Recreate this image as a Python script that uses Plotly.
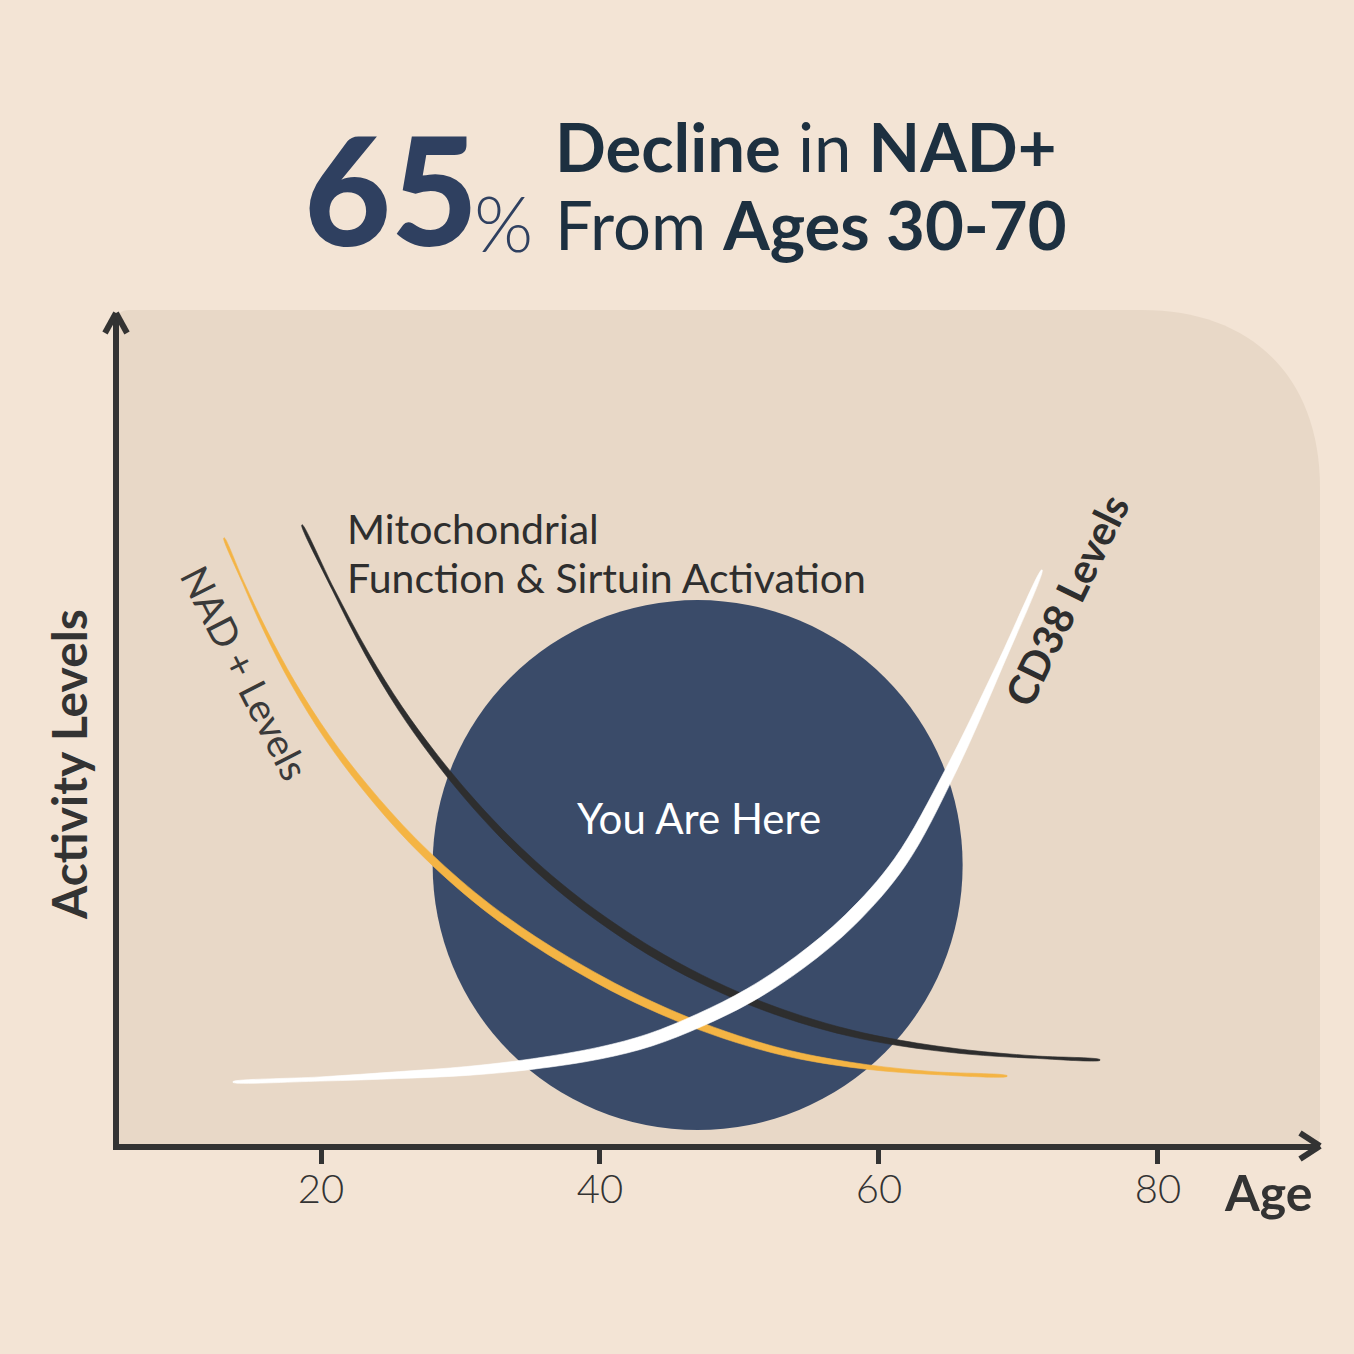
import math
import plotly.graph_objects as go

# ---------------- data ----------------
nad_age = [13.05, 14.41, 15.99, 17.99, 20.43, 23.15, 26.59, 30.90, 35.20, 40.00,
           43.58, 47.17, 50.75, 54.34, 59.14, 63.87, 69.18]
nad_lvl = [73.16, 67.87, 62.09, 55.72, 49.22, 43.20, 36.70, 30.08, 24.79, 19.98,
           16.97, 14.44, 12.39, 10.83, 9.51, 8.78, 8.42]

mito_age = [18.64, 20.86, 23.30, 25.66, 28.03, 30.47, 32.83, 35.20, 37.63, 40.00,
            43.58, 47.17, 50.75, 54.34, 57.92, 61.51, 66.31, 71.04, 75.84]
mito_lvl = [74.73, 67.03, 59.21, 52.71, 47.17, 42.12, 37.79, 33.94, 30.45, 27.44,
            23.47, 20.16, 17.45, 15.28, 13.60, 12.39, 11.31, 10.71, 10.35]

cd38_age = [13.69, 19.93, 25.66, 30.47, 35.20, 40.00, 43.58, 47.17, 50.75, 54.34,
            57.92, 61.51, 65.09, 68.67, 71.68]
cd38_lvl = [7.70, 8.06, 8.54, 9.03, 9.87, 11.19, 12.76, 15.16, 18.17, 22.14,
            27.20, 34.18, 45.01, 57.88, 69.31]

x_ticks = [20, 40, 60, 80]
x_range = [5.52, 91.47]
y_range = [0.24, 100]

you_are_here_age = 47.0
you_are_here_lvl = 33.8

# ---------------- styling ----------------
W = H = 1354
ML, MR, MT, MB = 119, 36, 315, 210
PW = W - ML - MR
PH = H - MT - MB
OUTER_BG = "#f3e4d5"
INNER_BG = "#e8d8c7"
AXIS = "#333333"
NAVY = "#1d3040"
BLUE = "#2f4060"
CIRCLE = "#3a4b69"
ORANGE = "#f4b444"
DARK = "#2e2e2e"
FONT = "Lato"

sx = PW / (x_range[1] - x_range[0])   # px per age unit
sy = PH / (y_range[1] - y_range[0])   # px per level unit


def PX(px):
    return (px - ML) / PW


def PY(py):
    return (H - MB - py) / PH


fig = go.Figure()


def ribbon(xs, ys, color, wmax, peak_frac, expo=0.8, wmin=0.8):
    """Tapered stroke: smooth filled band around the data curve."""
    n = len(xs)
    px = [(x - x_range[0]) * sx for x in xs]
    py = [(y - y_range[0]) * sy for y in ys]
    s = [0.0]
    for i in range(1, n):
        s.append(s[-1] + math.hypot(px[i] - px[i - 1], py[i] - py[i - 1]))
    S = s[-1]
    up, dn = [], []
    for i in range(n):
        t = s[i] / S
        if t <= peak_frac:
            w = math.sin(math.pi / 2 * t / peak_frac) ** expo
        else:
            w = math.sin(math.pi / 2 * (1 - t) / (1 - peak_frac)) ** expo
        h = max(wmax * w, wmin) / 2
        a, b = max(i - 1, 0), min(i + 1, n - 1)
        tx, ty = px[b] - px[a], py[b] - py[a]
        L = math.hypot(tx, ty)
        nx, ny = -ty / L, tx / L
        up.append((xs[i] + nx * h / sx, ys[i] + ny * h / sy))
        dn.append((xs[i] - nx * h / sx, ys[i] - ny * h / sy))
    poly = up + dn[::-1] + [up[0]]
    fig.add_trace(go.Scatter(
        x=[p[0] for p in poly], y=[p[1] for p in poly], mode="lines",
        fill="toself", fillcolor=color,
        line=dict(color=color, width=0.6, shape="spline", smoothing=1.0),
        hoverinfo="skip", showlegend=False))


ribbon(nad_age, nad_lvl, ORANGE, 8.5, 0.55)
ribbon(mito_age, mito_lvl, DARK, 8.0, 0.55)
ribbon(cd38_age, cd38_lvl, "#ffffff", 14.0, 0.58)

shapes = []
# rounded background panel
L, T, R, B = 117, 310, 1320, 1146
r1, r2, r3 = 12, 178, 12
k = 0.62
path = (f"M {PX(L)},{PY(B)} L {PX(L)},{PY(T + r1)} "
        f"Q {PX(L)},{PY(T)} {PX(L + r1)},{PY(T)} "
        f"L {PX(R - r2)},{PY(T)} "
        f"C {PX(R - r2 + k * r2)},{PY(T)} {PX(R)},{PY(T + r2 - k * r2)} {PX(R)},{PY(T + r2)} "
        f"L {PX(R)},{PY(B - r3)} Q {PX(R)},{PY(B)} {PX(R - r3)},{PY(B)} Z")
shapes.append(dict(type="path", xref="paper", yref="paper", path=path,
                   fillcolor=INNER_BG, line=dict(width=0), layer="below"))

# circle (You Are Here) centred on data point, radius in pixels
rad_px = 265
shapes.append(dict(type="circle", xref="x", yref="y",
                   x0=you_are_here_age - rad_px / sx, x1=you_are_here_age + rad_px / sx,
                   y0=you_are_here_lvl - rad_px / sy, y1=you_are_here_lvl + rad_px / sy,
                   fillcolor=CIRCLE, line=dict(width=0), layer="below"))

# arrow heads
for (x0, y0, x1, y1) in [(105, 333, 116, 313), (127, 333, 116, 313),
                         (1300, 1133, 1320, 1146), (1300, 1159, 1320, 1146)]:
    shapes.append(dict(type="line", xref="paper", yref="paper",
                       x0=PX(x0), y0=PY(y0), x1=PX(x1), y1=PY(y1),
                       line=dict(color=AXIS, width=6)))
shapes.append(dict(type="line", xref="paper", yref="paper",
                   x0=PX(116), y0=PY(318), x1=PX(116), y1=PY(314),
                   line=dict(color=AXIS, width=6)))

ann = []


def text(t, px, py, size, color, xanchor="center", yanchor="middle", angle=0, weight=None):
    f = dict(family=FONT, size=size, color=color)
    if weight:
        f["weight"] = weight
    ann.append(dict(text=t, x=PX(px), y=PY(py), xref="paper", yref="paper",
                    xanchor=xanchor, yanchor=yanchor, showarrow=False,
                    textangle=angle, font=f))


# title
text("65", 302, 188, 150, BLUE, xanchor="left", weight=900)
text("%", 472, 222, 76, BLUE, xanchor="left", weight=300)
text("<b>Decline</b> in <b>NAD+</b>", 553, 146, 67, NAVY, xanchor="left")
text("From <b>Ages 30-70</b>", 553, 224, 67, NAVY, xanchor="left")

# labels
text("Mitochondrial", 345, 528, 41, DARK, xanchor="left")
text("Function &amp; Sirtuin Activation", 345, 577, 41, DARK, xanchor="left")
text("NAD + Levels", 245, 672, 39, "#3a3a3a", angle=63)
text("<b>CD38 Levels</b>", 1066, 600, 41, DARK, angle=-64)
text("You Are Here", 699, 818, 42, "#ffffff")
text("<b>Activity Levels</b>", 68, 765, 48, AXIS, angle=-90)
text("<b>Age</b>", 1268, 1192, 50, AXIS)

fig.update_layout(
    width=W, height=H,
    margin=dict(l=ML, r=MR, t=MT, b=MB, pad=0),
    paper_bgcolor=OUTER_BG, plot_bgcolor="rgba(0,0,0,0)",
    shapes=shapes, annotations=ann, showlegend=False,
    xaxis=dict(range=x_range, tickvals=x_ticks, ticks="outside", ticklen=14,
               tickwidth=5, tickcolor=AXIS, showline=True, linecolor=AXIS,
               linewidth=6, showgrid=False, zeroline=False, ticklabelstandoff=-9,
               tickfont=dict(family=FONT, size=40, color=AXIS, weight=300),
               fixedrange=True),
    yaxis=dict(range=y_range, showticklabels=False, ticks="", showline=True,
               linecolor=AXIS, linewidth=6, showgrid=False, zeroline=False,
               fixedrange=True),
)

fig.write_html("out.html")
